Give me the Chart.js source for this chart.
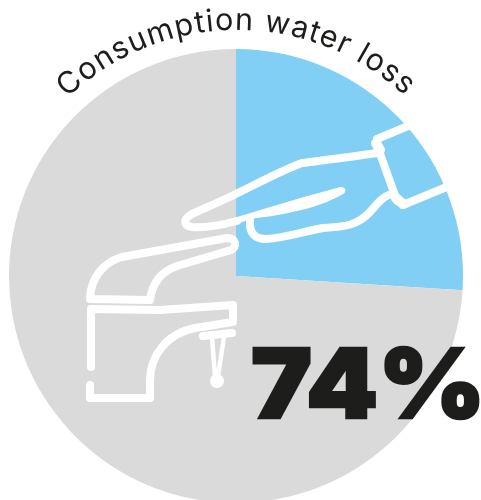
<!DOCTYPE html>
<html><head><meta charset="utf-8">
<style>
html,body{margin:0;padding:0;background:#fff;width:481px;height:500px;overflow:hidden}
#wrap{position:relative;width:481px;height:500px}
canvas{position:absolute;left:0;top:0}
svg{position:absolute;left:0;top:0}
</style>
<script src="https://cdn.jsdelivr.net/npm/chart.js@4"></script>
</head><body>
<div id="wrap">
<canvas id="c" width="481" height="500" style="width:481px;height:500px"></canvas>
<svg width="481" height="500" viewBox="0 0 481 500" xmlns="http://www.w3.org/2000/svg">
<defs><path id="arc" d="M 59.5 443.5 A 245 245 0 1 1 412.5 446" fill="none"/></defs>
<g fill="none" stroke="#fff" stroke-width="8" stroke-linecap="round" stroke-linejoin="round">
 <path d="M377 139 L408 126"/>
 <path d="M378 148 L397 201"/>
 <path d="M376 143 L380 150" stroke-width="10"/>
 <path d="M396 198 L403 204" stroke-width="10"/>
 <path d="M403 205 L449 186"/>
 <path d="M377 153 C350 157 325 160 302 163 C285 169 262 181 240 192 C222 201 205 208 192 214 C183 219 183 226 192 227 C205 228 222 225 237 221"/>
 <path d="M250 221 C249 233 255 239 266 239 C285 238 305 231 323 228 C345 227 358 225 370 212 C377 204 382 197 391 194"/>
 <path d="M90 298 C91 277 104 262 122 257 L227 238 C236 238 238 247 231 250 L177 266 C160 272 152 284 150 300 L90 299"/>
 <path d="M91 367 L91 309 L160 310 L233 305 L233 322 L195 328 C168 333 150 355 150 380 L150 398 L90 398 L90 385"/>
 <path d="M203 336 L232 333"/>
 <path d="M212 338 L215 376 L218 376 L224 337" stroke-width="4.5"/>
</g>
<path d="M193 226 C208 226 222 222 237 217 C270 207 310 195 340 187 C346 186 347 192 343 194 C325 205 295 213 265 217 C252 218 245 221 237 224 Z" fill="#fff"/>
<circle cx="217" cy="381" r="7" fill="#fff"/>
<text font-family="Inter" font-size="30.5" fill="#1d1d1b" letter-spacing="1.1"><textPath href="#arc" startOffset="49.75%" text-anchor="middle">Consumption water loss</textPath></text>
<text transform="translate(251 418) scale(1.07 1)" font-family="Inter" font-weight="900" font-size="96" fill="#1d1d1b" stroke="#1d1d1b" stroke-width="2.4" stroke-linejoin="miter">74%</text>
</svg>
</div>
<script>
const categories = ["Consumption water loss", "Other"];
const values = [26, 74];
const colours = ["#81CFF5", "#DADADA"];
new Chart(document.getElementById('c'), {
  type: 'pie',
  data: { labels: categories, datasets: [{ data: values, backgroundColor: colours, borderWidth: 0, radius: 227 }] },
  options: {
    responsive: false, animation: false,
    layout: { padding: { left: 9, right: 18, top: 52, bottom: 0 } },
    plugins: { legend: { display: false }, tooltip: { enabled: false }, title: { display: false } }
  }
});
</script>
</body></html>
